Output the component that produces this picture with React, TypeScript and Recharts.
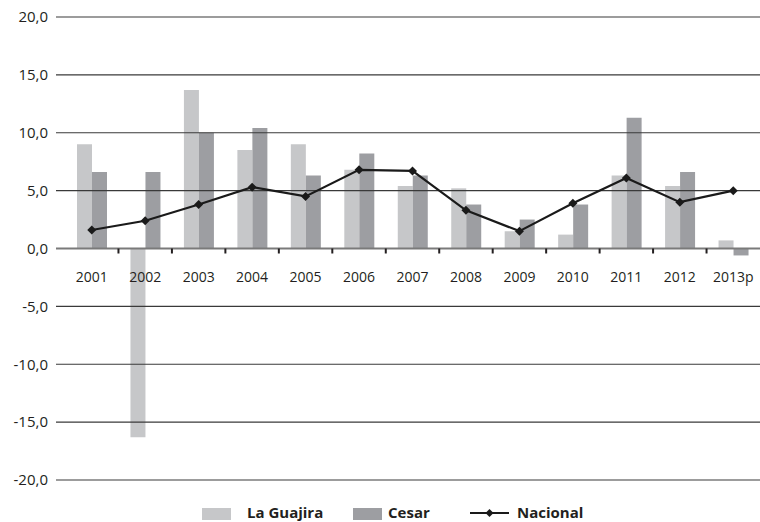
import React from "react";
import {
  ComposedChart,
  Bar,
  Line,
  XAxis,
  YAxis,
  ReferenceLine,
} from "recharts";

const years = [
  "2001", "2002", "2003", "2004", "2005", "2006", "2007",
  "2008", "2009", "2010", "2011", "2012", "2013p",
];
const laGuajira = [9.0, -16.3, 13.7, 8.5, 9.0, 6.8, 5.4, 5.2, 1.5, 1.2, 6.3, 5.4, 0.7];
const cesar = [6.6, 6.6, 10.0, 10.4, 6.3, 8.2, 6.3, 3.8, 2.5, 3.8, 11.3, 6.6, -0.6];
const nacional = [1.6, 2.4, 3.8, 5.3, 4.5, 6.8, 6.7, 3.3, 1.5, 3.9, 6.1, 4.0, 5.0];
const yTicks = [-20, -15, -10, -5, 0, 5, 10, 15, 20];

const data = years.map((year, i) => ({
  year,
  guajira: laGuajira[i],
  cesar: cesar[i],
  nacional: nacional[i],
}));

const W = 760;
const H = 522;
const MARGIN = { top: 17, right: 0, bottom: 41, left: 0 };
const Y_AXIS_W = 56;
const PAD_LEFT = 9;
const PLOT_TOP = MARGIN.top;
const PLOT_BOTTOM = H - MARGIN.bottom - 1;
const BAND = (W - MARGIN.right - Y_AXIS_W - PAD_LEFT) / years.length;

const LIGHT = "#c6c7c9";
const DARK = "#9d9ea2";
const INK = "#231f20";
const FONT = "'Open Sans', 'Noto Sans', sans-serif";

const zeroY = () =>
  PLOT_TOP + ((PLOT_BOTTOM - PLOT_TOP) * (20 - 0)) / 40;

const fmt = (v: number) => v.toFixed(1).replace(".", ",");

// category labels sit under the zero line, with ticks between categories
const YearTick = (props: any) => {
  const { x, payload, index } = props;
  const y0 = zeroY();
  return (
    <g>
      {index > 0 && (
        <line
          x1={x - BAND / 2}
          x2={x - BAND / 2}
          y1={y0}
          y2={y0 + 5}
          stroke={INK}
          strokeWidth={2}
        />
      )}
      <text
        x={x}
        y={y0 + 33}
        textAnchor="middle"
        fontSize={14}
        fontFamily={FONT}
        fill={INK}
      >
        {payload.value}
      </text>
    </g>
  );
};

const Diamond = (props: any) => {
  const { cx, cy } = props;
  if (cx == null || cy == null) return null;
  const r = 4.5;
  return (
    <polygon
      points={`${cx},${cy - r} ${cx + r},${cy} ${cx},${cy + r} ${cx - r},${cy}`}
      fill="#1a1a1a"
    />
  );
};

export default function App() {
  return (
    <div style={{ position: "absolute", left: 0, top: 0, width: W, height: H, background: "#fff" }}>
      <ComposedChart width={W} height={H} data={data} margin={MARGIN} barGap={0}>
        <XAxis
          dataKey="year"
          axisLine={false}
          tickLine={false}
          height={1}
          padding={{ left: PAD_LEFT, right: 0 }}
          tick={<YearTick />}
          interval={0}
        />
        <YAxis
          domain={[-20, 20]}
          ticks={yTicks}
          width={Y_AXIS_W}
          axisLine={false}
          tickLine={false}
          tickFormatter={fmt}
          tick={{ fontSize: 15, fill: INK, fontFamily: FONT }}
        />
        <Bar dataKey="guajira" fill={LIGHT} barSize={15} isAnimationActive={false} />
        <Bar dataKey="cesar" fill={DARK} barSize={15} isAnimationActive={false} />
        {yTicks
          .filter((t) => t !== 0)
          .map((t) => (
            <ReferenceLine key={t} y={t} stroke="#3a3a3a" strokeWidth={1.2} />
          ))}
        <ReferenceLine y={0} stroke="#7a7a7a" strokeWidth={2} />
        <Line
          dataKey="nacional"
          stroke="#1a1a1a"
          strokeWidth={2.2}
          dot={<Diamond />}
          activeDot={false}
          isAnimationActive={false}
        />
      </ComposedChart>

      {/* legend */}
      <div
        style={{
          position: "absolute",
          left: 0,
          top: 504,
          width: W,
          height: 18,
          fontFamily: FONT,
          fontWeight: 700,
          fontSize: 15,
          color: INK,
        }}
      >
        <div style={{ position: "absolute", left: 202, top: 4, width: 29, height: 12, background: LIGHT }} />
        <div style={{ position: "absolute", left: 247, top: -2, lineHeight: "20px" }}>La Guajira</div>
        <div style={{ position: "absolute", left: 353, top: 4, width: 29, height: 12, background: DARK }} />
        <div style={{ position: "absolute", left: 388, top: -2, lineHeight: "20px" }}>Cesar</div>
        <svg style={{ position: "absolute", left: 470, top: 2 }} width={40} height={16}>
          <line x1={0} x2={39} y1={7} y2={7} stroke="#1a1a1a" strokeWidth={2} />
          <polygon points="19.5,3 23.5,7 19.5,11 15.5,7" fill="#1a1a1a" />
        </svg>
        <div style={{ position: "absolute", left: 517, top: -2, lineHeight: "20px" }}>Nacional</div>
      </div>
    </div>
  );
}
